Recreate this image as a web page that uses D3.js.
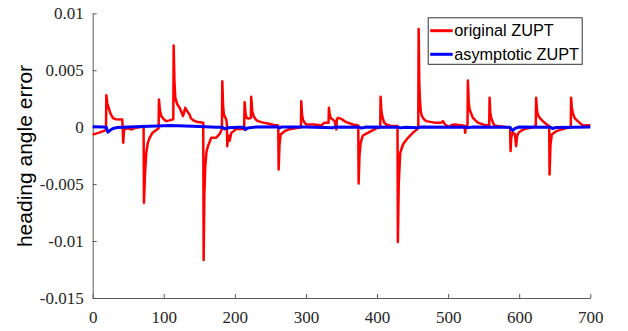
<!DOCTYPE html>
<html>
<head>
<meta charset="utf-8">
<script src="https://cdn.jsdelivr.net/npm/d3@7"></script>
<style>
    body { margin: 0; background: #fff; }
    .axis path, .axis line { stroke: #5a5a5a; }
</style>
</head>
<body>
<div class="chart-container"></div>
<script>
// data: [sample, heading error]
const originalZupt = [
    [0, -0.00065], [8, -0.0005], [17, -0.0003], [18.7, -0.0002], [19.2, 0.0028], [20.5, 0.0021],
    [22.5, 0.0017], [25, 0.0012], [28.5, 0.0008], [32, 0.0007], [41.5, 0.00068], [42, 0.0002],
    [43, -0.00137], [44, -0.0003], [46, -0.00014], [50, -0.0001], [55, -0.0002], [60, -0.00005],
    [66, 0], [71.6, 0.0001], [72.1, -0.00663], [73.5, -0.0042], [75.4, -0.00225], [77.5, -0.0014],
    [80.1, -0.00093], [84, -0.0005], [87.2, -0.00035], [92.7, -0.0001], [93.2, 0.00243], [94.5, 0.0015],
    [96.5, 0.00097], [100, 0.0007], [103.5, 0.00053], [108, 0.0006], [113.4, 0.0007], [113.9, 0.00717],
    [115, 0.004], [116.2, 0.00258], [119, 0.002], [122.3, 0.0017], [125, 0.0013], [127, 0.00097],
    [128.5, 0.0013], [130.2, 0.0017], [133, 0.0014], [136.4, 0.0011], [138, 0.0008], [141, 0.00062],
    [146, 0.00048], [150.4, 0.00044], [155.5, 0.0004], [156.1, -0.01167], [157, -0.006], [158.4, -0.00342],
    [160, -0.0022], [162.1, -0.00167], [166.8, -0.00093], [173.8, -0.00093], [177, -0.0007], [179.5, -0.0005],
    [181.8, -0.00017], [182.3, 0.00404], [183.5, 0.0018], [184.6, 0.0011], [187.9, 0.00067], [188.8, 0.0002],
    [189.3, -0.00167], [190.3, -0.0008], [191.2, -0.00076], [192.6, -0.0012], [195, -0.0005], [202, -0.00017],
    [213, -0.00017], [213.7, 0.0022], [215, 0.0012], [216.5, 0.00082], [219, 0.00075], [222.5, 0.0008],
    [223, 0.00267], [224.5, 0.0014], [226.4, 0.00097], [229, 0.0007], [232.5, 0.00053], [240, 0.0004],
    [246.5, 0.00032], [255, 0.0002], [261, 0.00015], [261.6, -0.00371], [262.8, -0.0015], [264.4, -0.00064],
    [270, -0.00035], [276.6, -0.00018], [285, -0.0001], [292.9, 0], [293.4, 0.00228], [294.5, 0.0011],
    [295.7, 0.00067], [298, 0.0004], [300.4, 0.00024], [312, 0.00024], [321.5, 0.00015], [326.2, 0.0004],
    [331.8, 0.0004], [332.3, 0.0017], [333.5, 0.0011], [334.6, 0.00082], [340.3, 0.00053], [342, 0.0001],
    [342.6, -0.0002], [343.5, 0.0007], [345, 0.00082], [349.6, 0.00073], [356.6, 0.00044], [366, 0.00024],
    [373.6, 0.00015], [374.1, -0.00494], [375.3, -0.0025], [376.9, -0.00137], [380.1, -0.00073], [387.1, -0.0005],
    [393, -0.0003], [398.9, -0.0001], [404.5, 0], [405, 0.00267], [406, 0.0015], [407.3, 0.00097],
    [410, 0.0004], [412.9, 0.00024], [419.9, 0.0001], [428.8, 0.0001], [429.3, -0.01009], [430.5, -0.005],
    [432.6, -0.00225], [436.4, -0.00152], [443.4, -0.00093], [450.4, -0.0005], [456.5, -0.00017], [458, 0],
    [458.5, 0.00863], [459.4, 0.004], [460.3, 0.00243], [461.5, 0.0014], [463.1, 0.00097], [466, 0.0007],
    [469.1, 0.00053], [480.9, 0.0004], [490, 0.0004], [492.6, 0.00053], [495, 0.0003], [497.3, 0.00015],
    [502, 0.00003], [505, 0.0002], [509, 0.00024], [520.7, 0.00015], [523, 0.0001], [524, -0.0005],
    [525, 0.0001], [527.3, 0.0002], [527.8, 0.0041], [529, 0.0022], [530.2, 0.00155], [534.8, 0.00082],
    [541.8, 0.0004], [550, 0.00022], [557.8, 0.00015], [558.3, 0.00258], [559.4, 0.0012], [560.6, 0.00082],
    [563, 0.0004], [565.3, 0.00015], [575, 0.00005], [581.7, 0], [587.2, 0], [587.8, -0.0021],
    [588.8, -0.0009], [591, -0.0005], [594, -0.0006], [595.7, -0.00167], [597, -0.0008], [599, -0.0005],
    [603, -0.0003], [607.5, -0.00017], [619, 0], [623.3, 0.0001], [623.8, 0.00258], [625, 0.0015],
    [626.2, 0.0011], [629, 0.0008], [633.2, 0.00053], [640.3, 0.00015], [642.2, 0.00012], [642.7, -0.00415],
    [644, -0.0015], [645.9, -0.00064], [652, -0.00035], [661.4, -0.00017], [668, -0.00005], [672.5, 0],
    [673, 0.00258], [674, 0.0017], [675.4, 0.00126], [678, 0.0008], [682.4, 0.00053], [689.5, 0.00015],
    [700, 0.00018]
];

const asymptoticZupt = [
    [0, 0.00003], [15, 0.00002], [19, 0], [20, -0.0002], [21.5, -0.00044], [24, -0.0003],
    [28.5, -0.00012], [35, -0.00002], [50, 0.00002], [70, 0.00005], [90, 0.0001], [110, 0.00014],
    [130, 0.0001], [150, 0.00005], [175, 0], [182, 0.00002], [186, -0.00015], [190, -0.00005],
    [205, 0], [213, 0], [214.5, -0.00022], [218, -0.00008], [230, 0.00002], [260, 0.00003],
    [262, -0.00008], [266, 0.00002], [300, 0.00002], [338, -0.00005], [340, 0.00002], [375, 0],
    [378, -0.00008], [385, 0.00002], [430, 0], [433, -0.00006], [440, 0], [457, -0.00005],
    [462, 0.00001], [525, 0], [528, -0.00004], [535, 0.00002], [587, 0], [589, -0.0002],
    [591, -0.00028], [594, -0.0001], [600, 0.00002], [644, 0], [647, -0.00012], [652, -0.00002],
    [700, 0.00002]
];

const xTicks = [0, 100, 200, 300, 400, 500, 600, 700];
const yTicks = [0.01, 0.005, 0, -0.005, -0.01, -0.015];
const yTickLabels = ['0.01', '0.005', '0', '-0.005', '-0.01', '-0.015'];
const seriesNames = ['original ZUPT', 'asymptotic ZUPT'];
const seriesColors = ['#ff0000', '#0000ff'];

const serifFont = "'Liberation Serif', 'DejaVu Serif', serif";
const sansFont = "'Liberation Sans', Arial, sans-serif";

const margin = { top: 13.3, right: 37.7, bottom: 33, left: 92.7 };
const width = 628 - margin.left - margin.right;
const height = 331 - margin.top - margin.bottom;

const xScale = d3.scaleLinear().domain([0, 700]).range([0, width]);
const yScale = d3.scaleLinear().domain([-0.015, 0.01]).range([height, 0]);

const svg = d3.select('.chart-container')
    .append('svg')
    .attr('width', 628)
    .attr('height', 331)
    .append('g')
    .attr('transform', `translate(${margin.left}, ${margin.top})`);

// axes, ticks pointing inward like matlab
const xAxis = d3.axisBottom(xScale)
    .tickValues(xTicks)
    .tickFormat(d3.format('d'))
    .tickSizeInner(-4)
    .tickSizeOuter(0)
    .tickPadding(13);

const xAxisDraw = svg.append('g')
    .attr('class', 'x axis')
    .attr('transform', `translate(0, ${height})`)
    .call(xAxis);

const yAxis = d3.axisLeft(yScale)
    .tickValues(yTicks)
    .tickFormat((d, i) => yTickLabels[i])
    .tickSizeInner(-4)
    .tickSizeOuter(0)
    .tickPadding(9);

const yAxisDraw = svg.append('g')
    .attr('class', 'y axis')
    .call(yAxis);

[xAxisDraw, yAxisDraw].forEach(g => {
    g.attr('font-family', serifFont).attr('font-size', 17);
    g.selectAll('text')
        .style('font-family', serifFont)
        .style('font-size', '17px')
        .attr('fill', '#262626');
});

// y label
svg.append('text')
    .attr('transform', `translate(${25 - margin.left}, ${156 - margin.top}) rotate(-90)`)
    .attr('text-anchor', 'middle')
    .attr('dy', '0.35em')
    .style('font-family', sansFont)
    .style('font-size', '21px')
    .style('fill', '#000')
    .text('heading angle error');

// lines
const line = d3.line()
    .x(d => xScale(d[0]))
    .y(d => yScale(d[1]));

[originalZupt, asymptoticZupt].forEach((series, i) => {
    svg.append('path')
        .datum(series)
        .attr('d', line)
        .attr('fill', 'none')
        .attr('stroke', seriesColors[i])
        .attr('stroke-width', i === 0 ? 2.5 : 3)
        .attr('stroke-linejoin', 'round');
});

// legend
const legend = svg.append('g')
    .attr('transform', `translate(${427.7 - margin.left}, ${17.3 - margin.top})`);

legend.append('rect')
    .attr('x', 0.5)
    .attr('y', 0.5)
    .attr('width', 154)
    .attr('height', 46.5)
    .attr('fill', '#fff')
    .attr('stroke', '#333')
    .attr('stroke-width', 1);

seriesNames.forEach((name, i) => {
    const yy = 13.4 + i * 23.6;
    legend.append('line')
        .attr('x1', 2.5)
        .attr('x2', 25)
        .attr('y1', yy)
        .attr('y2', yy)
        .attr('stroke', seriesColors[i])
        .attr('stroke-width', 3);
    legend.append('text')
        .attr('x', 26.5)
        .attr('y', yy)
        .attr('dy', '0.35em')
        .style('font-family', sansFont)
        .style('font-size', '16.3px')
        .style('fill', '#000')
        .text(name);
});
</script>
</body>
</html>
